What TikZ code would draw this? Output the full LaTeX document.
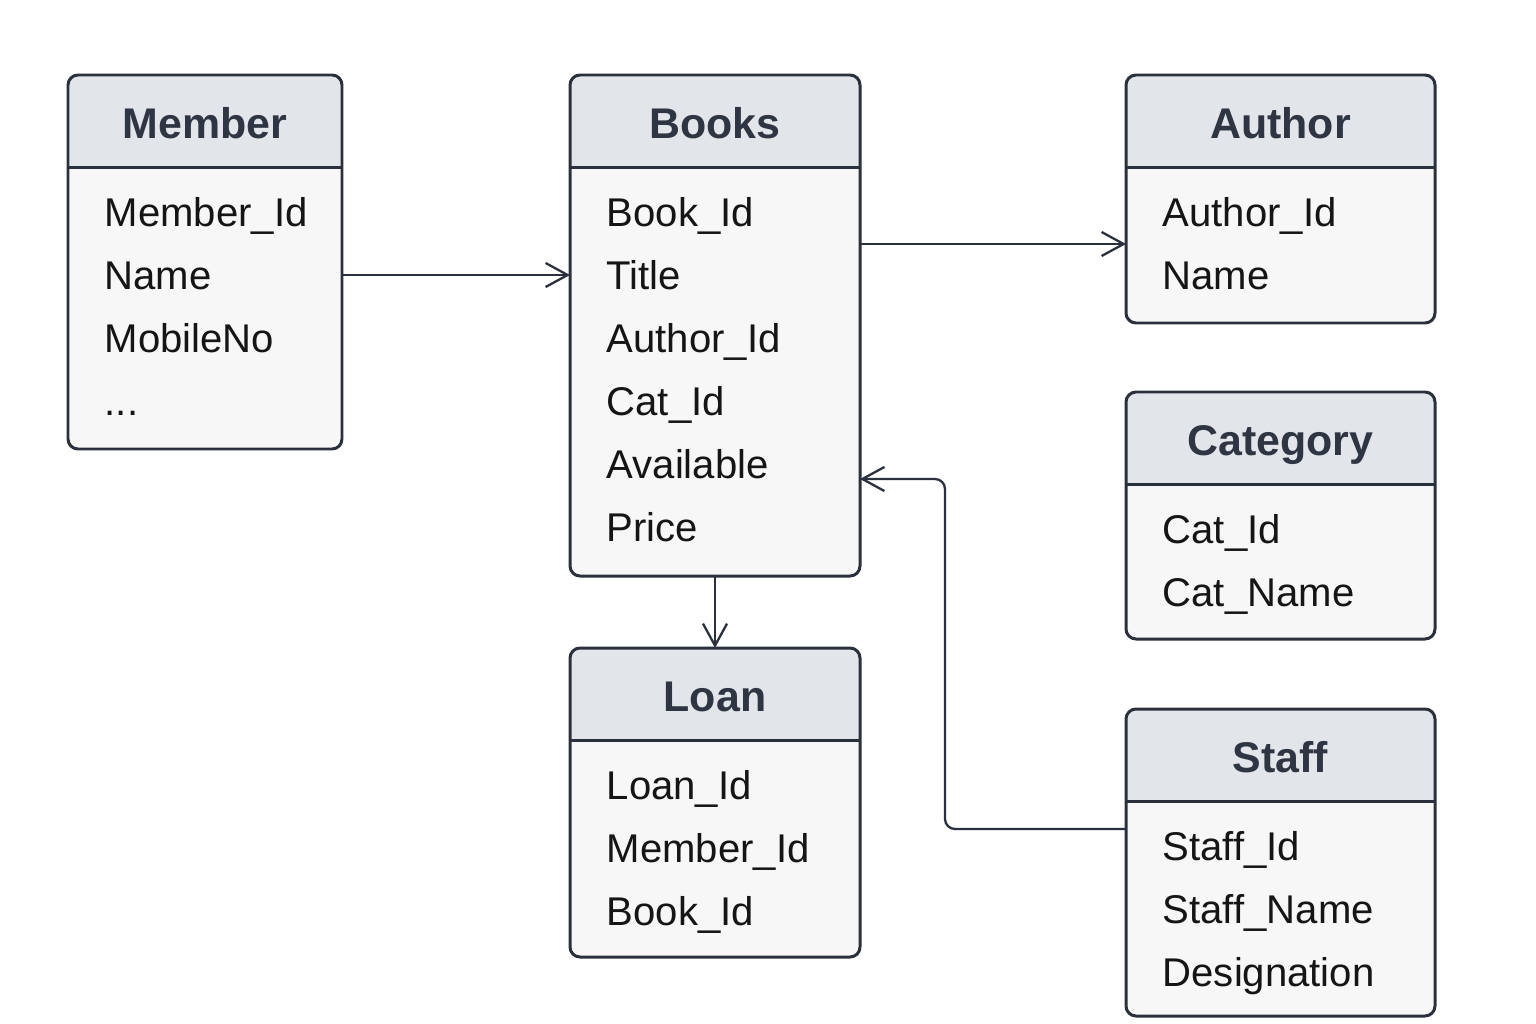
\documentclass[tikz,border=0pt]{standalone}
\usepackage{fontspec}
\setmainfont{Liberation Sans}
\usetikzlibrary{arrows.meta}
\definecolor{edge}{HTML}{2B313C}
\definecolor{headfill}{HTML}{E2E5EA}
\definecolor{bodyfill}{HTML}{F7F7F8}
\definecolor{titletext}{HTML}{2F3542}
\definecolor{fieldtext}{HTML}{151515}

\tikzset{
  tablebox/.style={rectangle, inner sep=0pt, outer sep=0pt},
  titlelabel/.style={anchor=base, inner sep=0pt, text=titletext,
    font=\bfseries\fontsize{12.2}{14}\selectfont},
  fieldlabel/.style={anchor=base west, inner sep=0pt, text=fieldtext,
    font=\fontsize{11.4}{14}\selectfont},
  link/.style={draw=edge, line width=0.65pt,
    -{Straight Barb[length=2.2mm, width=2.4mm]}}
}

% #1 name, #2 left, #3 top, #4 width, #5 height, #6 title, #7 fields
\newcommand{\entity}[7]{%
  \node[tablebox, minimum width=#4*0.01cm, minimum height=#5*0.01cm]
    (#1) at ({#2+#4/2},{#3+#5/2}) {};
  \fill[bodyfill, rounded corners=1mm] (#1.north west) rectangle (#1.south east);
  \fill[headfill, rounded corners=1mm] (#1.north west) rectangle ([yshift=-0.92cm]#1.north east);
  \fill[headfill] ([yshift=-0.5cm]#1.north west) rectangle ([yshift=-0.92cm]#1.north east);
  \draw[edge, line width=0.85pt] ([yshift=-0.92cm]#1.north west) -- ([yshift=-0.92cm]#1.north east);
  \draw[edge, line width=0.85pt, rounded corners=1mm] (#1.north west) rectangle (#1.south east);
  \node[titlelabel] (#1-title) at ([yshift=-0.63cm]#1.north) {#6};
  \foreach \f [count=\i] in {#7}
    \node[fieldlabel] (#1-\i) at ([xshift=0.36cm, yshift={-1.51cm-(\i-1)*0.63cm}]#1.north west) {\f};
}

\begin{document}
\begin{tikzpicture}[x=0.01cm, y=-0.01cm]
  \useasboundingbox[fill=white] (0,0) rectangle (1536,1024);

  \entity{member}{68}{75}{274}{374}{Member}{Member\_Id, Name, MobileNo, {.\kern0pt.\kern0pt.}}
  \entity{books}{570}{75}{290}{501}{Books}{Book\_Id, Title, Author\_Id, Cat\_Id, Available, Price}
  \entity{author}{1126}{75}{309}{248}{Author}{Author\_Id, Name}
  \entity{category}{1126}{392}{309}{247}{Category}{Cat\_Id, Cat\_Name}
  \entity{loan}{570}{648}{290}{309}{Loan}{Loan\_Id, Member\_Id, Book\_Id}
  \entity{staff}{1126}{709}{309}{307}{Staff}{Staff\_Id, Staff\_Name, Designation}

  \draw[link] (member.east |- 0,275) -- (books.west |- 0,275);
  \draw[link] (books.east |- 0,244) -- (author.west |- 0,244);
  \draw[link] (books.south) -- (loan.north);
  \draw[link, rounded corners=1mm] (staff.west |- 0,829) -| (945,479) -- (books.east |- 0,479);
\end{tikzpicture}
\end{document}
